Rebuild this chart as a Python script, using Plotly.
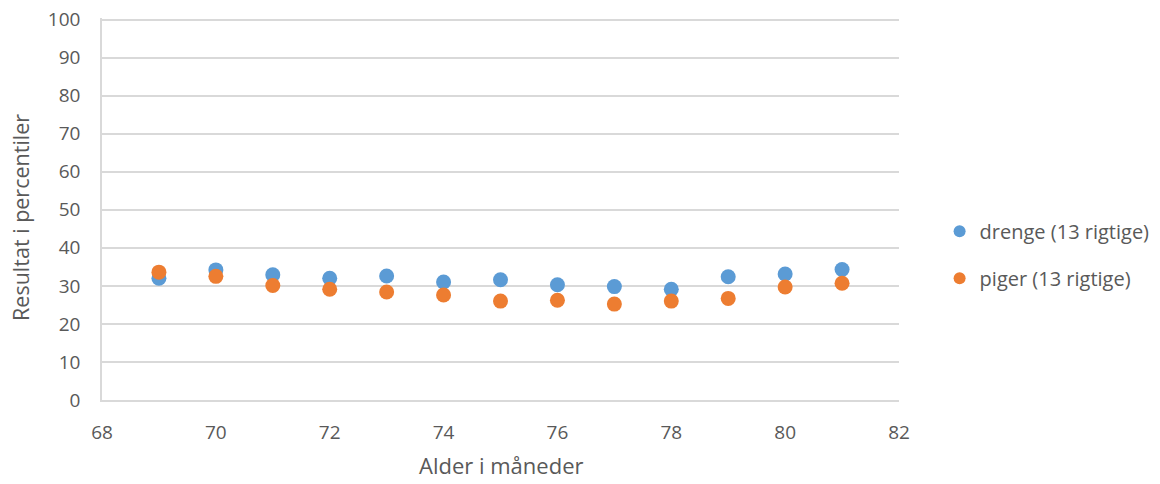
import plotly.graph_objects as go

alder = [69, 70, 71, 72, 73, 74, 75, 76, 77, 78, 79, 80, 81]
drenge = [32.0, 34.2, 32.9, 32.0, 32.6, 31.0, 31.6, 30.3, 29.8, 29.1, 32.4, 33.1, 34.3]
piger = [33.6, 32.5, 30.1, 29.1, 28.4, 27.6, 26.0, 26.2, 25.2, 26.0, 26.7, 29.7, 30.7]
y_ticks = [0, 10, 20, 30, 40, 50, 60, 70, 80, 90, 100]
x_ticks = [68, 70, 72, 74, 76, 78, 80, 82]

font_fam = "'Open Sans', sans-serif"
gray = "#595959"

fig = go.Figure()
fig.add_trace(go.Scatter(x=alder, y=drenge, mode="markers", name="drenge (13 rigtige)",
                         legendgroup="d", marker=dict(color="#5b9bd5", size=15)))
fig.add_trace(go.Scatter(x=alder, y=piger, mode="markers", name="piger (13 rigtige)",
                         legendgroup="p", marker=dict(color="#ed7d31", size=15)))

fig.update_layout(
    width=1160, height=484,
    margin=dict(l=102, r=261, t=18, b=84),
    paper_bgcolor="white", plot_bgcolor="white",
    font=dict(family=font_fam, color=gray, size=19),
    showlegend=True,
    legend=dict(xref="container", x=0.81, y=0.38, xanchor="left", yanchor="middle",
                font=dict(size=20, color=gray), itemsizing="constant",
                tracegroupgap=18),
    xaxis=dict(range=[68, 82], tickmode="array", tickvals=x_ticks, showgrid=False, zeroline=False,
               showline=True, linecolor="#d9d9d9", linewidth=1.5, automargin=False,
               ticks="", tickfont=dict(size=19, color=gray), ticklabelstandoff=14,
               ticklabeloverflow="allow"),
    yaxis=dict(range=[0, 100.4], tickmode="array", tickvals=y_ticks, showgrid=True,
               gridcolor="#d9d9d9", gridwidth=1.5,
               zeroline=False, showline=True, linecolor="#d9d9d9", linewidth=1.5, automargin=False,
               ticks="", tickfont=dict(size=19, color=gray), ticklabelstandoff=16,
               ticklabeloverflow="allow"),
    annotations=[
        dict(text="Alder i måneder", xref="paper", yref="paper", x=0.501, y=-0.171,
             xanchor="center", yanchor="middle", showarrow=False,
             font=dict(size=22, color=gray)),
        dict(text="Resultat i percentiler", xref="paper", yref="paper", x=-0.103, y=0.479,
             xanchor="center", yanchor="middle", showarrow=False, textangle=-90,
             font=dict(size=21.5, color=gray)),
    ],
)

fig.write_html("out.html", config={"displayModeBar": False},
               post_script="document.body.style.margin='0px';")
